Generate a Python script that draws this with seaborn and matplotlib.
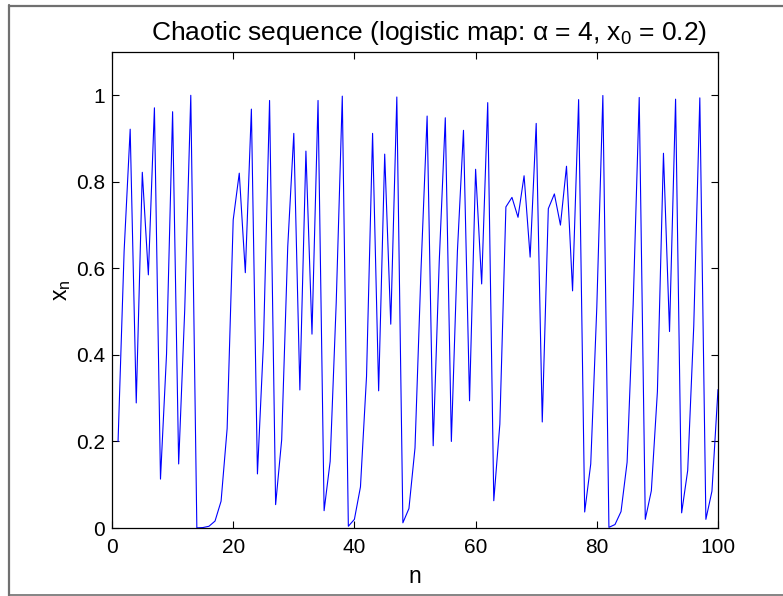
import matplotlib
matplotlib.use("Agg")
import matplotlib.pyplot as plt
import seaborn as sns
import pandas as pd
from matplotlib.lines import Line2D

# ---- data ----
n_index = list(range(1, 101))
x_values = [
    0.2, 0.64, 0.9216, 0.289, 0.822, 0.585, 0.971, 0.113, 0.402, 0.962,
    0.148, 0.504, 0.99994, 0.00025, 0.001, 0.004, 0.016, 0.062, 0.23, 0.712,
    0.82, 0.59, 0.968, 0.125, 0.43, 0.988, 0.054, 0.204, 0.65, 0.912,
    0.319, 0.871, 0.448, 0.988, 0.04, 0.154, 0.521, 0.998, 0.004, 0.02,
    0.095, 0.35, 0.912, 0.317, 0.864, 0.471, 0.996, 0.012, 0.045, 0.185,
    0.6, 0.952, 0.19, 0.616, 0.948, 0.2, 0.64, 0.919, 0.294, 0.829,
    0.564, 0.983, 0.063, 0.24, 0.742, 0.764, 0.718, 0.814, 0.626, 0.935,
    0.245, 0.738, 0.772, 0.70, 0.836, 0.548, 0.99, 0.037, 0.148, 0.51,
    0.9995, 0.0015, 0.008, 0.038, 0.152, 0.516, 0.995, 0.02, 0.086, 0.315,
    0.866, 0.454, 0.991, 0.035, 0.133, 0.467, 0.994, 0.02, 0.085, 0.32,
]
x_ticks = [0, 20, 40, 60, 80, 100]
x_tick_labels = ["0", "20", "40", "60", "80", "100"]
y_ticks = [0, 0.2, 0.4, 0.6, 0.8, 1.0]
y_tick_labels = ["0", "0.2", "0.4", "0.6", "0.8", "1"]
title_text = r"Chaotic sequence (logistic map: $\alpha$ = 4, x$_0$ = 0.2)"
x_label = "n"
y_label = r"x$_\mathregular{n}$"

df = pd.DataFrame({"n": n_index, "x": x_values})

sns.set_theme(style="ticks")
plt.rcParams["font.family"] = ["Liberation Sans", "DejaVu Sans"]
plt.rcParams["mathtext.fontset"] = "custom"
plt.rcParams["mathtext.rm"] = "Liberation Sans"
plt.rcParams["mathtext.it"] = "Liberation Sans"
plt.rcParams["mathtext.bf"] = "Liberation Sans:bold"

fig = plt.figure(figsize=(7.83, 5.96), dpi=100)
fig.patch.set_facecolor("white")
ax = fig.add_axes([112 / 783, 1 - 528 / 596, (718 - 112) / 783, (528 - 52) / 596])

sns.lineplot(data=df, x="n", y="x", ax=ax, color=(0, 0, 1), linewidth=0.8)

ax.set_xlim(0, 100)
ax.set_ylim(0, 1.1)
ax.set_xticks(x_ticks)
ax.set_xticklabels(x_tick_labels)
ax.set_yticks(y_ticks)
ax.set_yticklabels(y_tick_labels)
ax.tick_params(axis="both", direction="in", length=5, width=0.8, colors="black",
               labelsize=15, top=True, right=True)
ax.tick_params(axis="x", pad=7)
ax.tick_params(axis="y", pad=5)
for s in ax.spines.values():
    s.set_visible(True)
    s.set_color("black")
    s.set_linewidth(0.9)

ax.set_title(title_text, fontsize=19, pad=9, color="black", x=0.523)
ax.set_xlabel(x_label, fontsize=16.5, labelpad=6, color="black")
ax.set_ylabel(y_label, fontsize=16.5, labelpad=2, color="black")

# gray figure frame (left, top, bottom edges)
frame_col = "#707070"
fig.add_artist(Line2D([8.5 / 783, 8.5 / 783], [0, 1 - 5 / 596], transform=fig.transFigure,
                      color=frame_col, linewidth=1.6))
fig.add_artist(Line2D([8.5 / 783, 1], [1 - 5.5 / 596, 1 - 5.5 / 596], transform=fig.transFigure,
                      color=frame_col, linewidth=1.6))
fig.add_artist(Line2D([8.5 / 783, 1], [0.6 / 596, 0.6 / 596], transform=fig.transFigure,
                      color=frame_col, linewidth=1.2))

fig.savefig("out.png", dpi=100, facecolor="white")
